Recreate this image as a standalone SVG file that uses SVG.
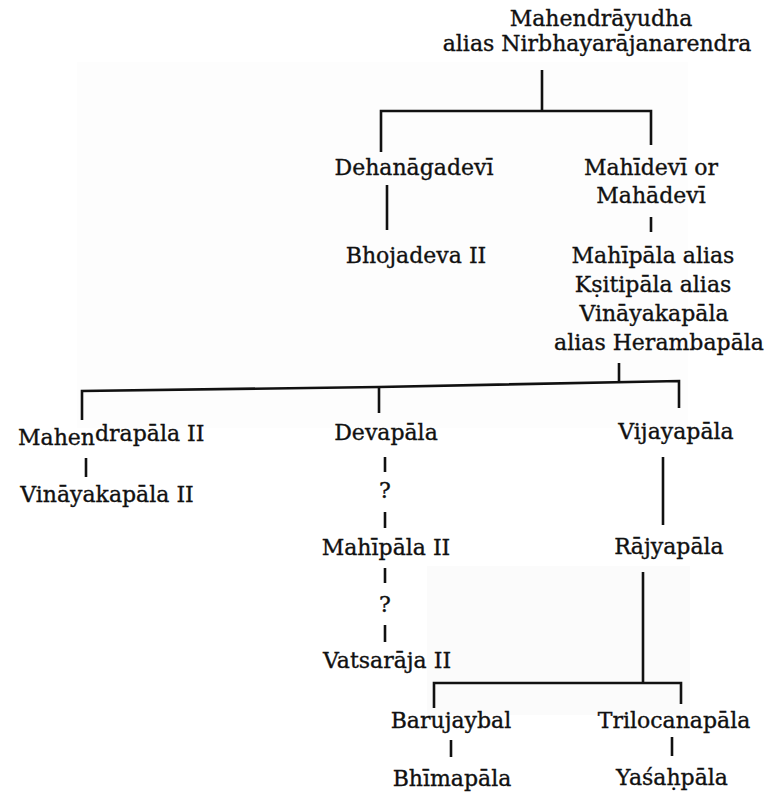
<svg xmlns="http://www.w3.org/2000/svg" width="767" height="794" viewBox="0 0 767 794">
  <style>
    .bg { fill: #ffffff; }
    .tint { fill: #fdfdfd; }
    .tint2 { fill: #fbfbfb; }
    .name { font-family: "DejaVu Serif", "Liberation Serif", serif; font-size: 22px; fill: #111111; stroke: #111111; stroke-width: 0.35px; text-anchor: middle; }
    .link { fill: none; stroke: #111111; stroke-width: 2.6; stroke-linecap: butt; stroke-linejoin: miter; }
  </style>

  <rect class="bg" x="0" y="0" width="767" height="794"/>
  <!-- faint paper tone panels -->
  <rect class="tint" x="77" y="62" width="611" height="366"/>
  <rect class="tint2" x="427" y="566" width="263" height="149"/>

  <!-- connectors -->
  <g id="connectors">
    <path class="link" d="M542,70 V111"/>
    <path class="link" d="M381,152 V111 H651 V145"/>
    <path class="link" d="M387,185 V230"/>
    <path class="link" d="M651,217 V232"/>
    <path class="link" d="M619,363 V383"/>
    <path class="link" d="M82,420 V391 L379,387 L679,381 V408"/>
    <path class="link" d="M379,387 V413"/>
    <path class="link" d="M86,458 V477"/>
    <path class="link" d="M385,457 V472"/>
    <path class="link" d="M385,512 V528"/>
    <path class="link" d="M385,568 V583"/>
    <path class="link" d="M385,625 V642"/>
    <path class="link" d="M663,457 V525"/>
    <path class="link" d="M643,572 V683"/>
    <path class="link" d="M434,708 V683 H681 V704"/>
    <path class="link" d="M451,740 V757"/>
    <path class="link" d="M672,737 V756"/>
    <text class="name" x="385" y="498">?</text>
    <text class="name" x="385" y="612">?</text>
  </g>

  <g id="mahendrayudha">
    <text class="name" x="601" y="26">Mahendrāyudha</text>
    <text class="name" x="597" y="51">alias Nirbhayarājanarendra</text>
  </g>
  <g id="dehanagadevi">
    <text class="name" x="414" y="175">Dehanāgadevī</text>
  </g>
  <g id="bhojadeva-ii">
    <text class="name" x="416" y="263">Bhojadeva II</text>
  </g>
  <g id="mahidevi">
    <text class="name" x="651" y="175">Mahīdevī or</text>
    <text class="name" x="651" y="203">Mahādevī</text>
  </g>
  <g id="mahipala">
    <text class="name" x="653" y="263">Mahīpāla alias</text>
    <text class="name" x="653" y="292">Kṣitipāla alias</text>
    <text class="name" x="654" y="321">Vināyakapāla</text>
    <text class="name" x="659" y="350">alias Herambapāla</text>
  </g>
  <g id="mahendrapala-ii">
    <text class="name" x="18" y="445" style="text-anchor:start">Mahen<tspan dy="-4">drapāla II</tspan></text>
  </g>
  <g id="vinayakapala-ii">
    <text class="name" x="107" y="502">Vināyakapāla II</text>
  </g>
  <g id="devapala">
    <text class="name" x="386" y="440">Devapāla</text>
  </g>
  <g id="vijayapala">
    <text class="name" x="676" y="439">Vijayapāla</text>
  </g>
  <g id="mahipala-ii">
    <text class="name" x="386" y="555">Mahīpāla II</text>
  </g>
  <g id="vatsaraja-ii">
    <text class="name" x="387" y="668">Vatsarāja II</text>
  </g>
  <g id="rajyapala">
    <text class="name" x="669" y="554">Rājyapāla</text>
  </g>
  <g id="barujaybal">
    <text class="name" x="451" y="728">Barujaybal</text>
  </g>
  <g id="trilocanapala">
    <text class="name" x="674" y="728">Trilocanapāla</text>
  </g>
  <g id="bhimapala">
    <text class="name" x="452" y="786">Bhīmapāla</text>
  </g>
  <g id="yasahpala">
    <text class="name" x="672" y="785">Yaśaḥpāla</text>
  </g>
</svg>
